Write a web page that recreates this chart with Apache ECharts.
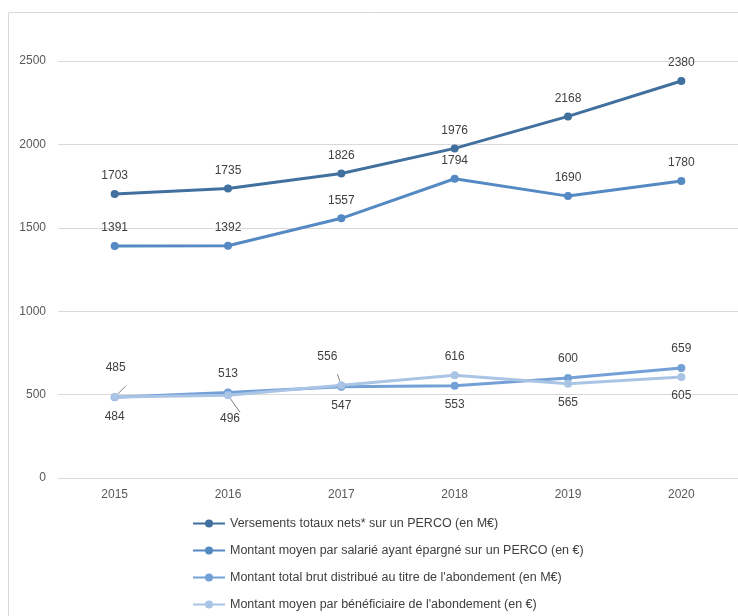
<!DOCTYPE html>
<html>
<head>
<meta charset="utf-8">
<script src="https://cdn.jsdelivr.net/npm/echarts@6/dist/echarts.min.js"></script>
<style>
html,body{margin:0;padding:0;background:#fff;}
#main{width:738px;height:616px;}
</style>
</head>
<body>
<div id="main"></div>
<script>
const categories = ['2015','2016','2017','2018','2019','2020'];
const seriesNames = [
  'Versements totaux nets* sur un PERCO (en M€)',
  'Montant moyen par salarié ayant épargné sur un PERCO (en €)',
  "Montant total brut distribué au titre de l'abondement (en M€)",
  "Montant moyen par bénéficiaire de l'abondement (en €)"
];
const versements = [1703, 1735, 1826, 1976, 2168, 2380];
const montantSalarie = [1391, 1392, 1557, 1794, 1690, 1780];
const abondementTotal = [484, 513, 547, 553, 600, 659];
const abondementMoyen = [485, 496, 556, 616, 565, 605];
const yTicks = {min: 0, max: 2500, interval: 500};

// label placement (style only)
const pos3 = ['bottom','top','bottom','bottom','top','top'];
const pos4 = ['top','bottom','top','top','bottom','bottom'];
const off4 = [[1,-10],[2,4],[-14,-10],[0,0],[0,0],[0,0]];
const leader4 = [true,true,true,false,false,false];

const colors = ['#41709f','#5589c3','#73a0d6','#aac4e6'];
const font = '"Liberation Sans", Arial, sans-serif';

function mk(values, positions, offsets, leaders){
  return values.map((v,i)=>{
    const item = {value: v};
    if (positions) {
      item.label = {position: positions[i]};
      if (offsets) item.label.offset = offsets[i];
      if (leaders && leaders[i]) item.labelLine = {show: true, lineStyle:{color:'#7f7f7f', width:1}};
    }
    return item;
  });
}

function line(name, data, color, distance){
  return {
    name: name, type: 'line', data: data,
    symbol: 'circle', symbolSize: 8,
    lineStyle: {width: 3, color: color},
    itemStyle: {color: color},
    label: {show: true, position: 'top', distance: distance, color: '#404040', fontSize: 12, fontFamily: font},
    emphasis: {disabled: true},
    animation: false
  };
}

const chart = echarts.init(document.getElementById('main'));
chart.setOption({
  animation: false,
  graphic: [{
    type: 'rect', left: 6, top: 10,
    shape: {width: 760, height: 640},
    style: {fill: 'none', stroke: '#d9d9d9', lineWidth: 1},
    silent: true
  }],
  grid: {left: 58, right: 0, top: 61, bottom: 138, containLabel: false},
  xAxis: {
    type: 'category', data: categories, boundaryGap: true,
    axisLine: {show: true, lineStyle: {color: '#d9d9d9'}},
    axisTick: {show: false},
    axisLabel: {color: '#595959', fontSize: 12, fontFamily: font, margin: 11}
  },
  yAxis: {
    type: 'value', min: yTicks.min, max: yTicks.max, interval: yTicks.interval,
    axisLine: {show: false}, axisTick: {show: false},
    splitLine: {lineStyle: {color: '#d9d9d9'}},
    axisLabel: {color: '#595959', fontSize: 12, fontFamily: font, margin: 12,
      formatter: v => String(v)}
  },
  legend: {
    orient: 'vertical', left: 187, top: 512, itemGap: 14,
    itemWidth: 32, itemHeight: 10,
    textStyle: {color: '#404040', fontSize: 12.5, fontFamily: font},
    data: seriesNames
  },
  series: [
    line(seriesNames[0], mk(versements), colors[0], 8),
    line(seriesNames[1], mk(montantSalarie), colors[1], 8),
    line(seriesNames[2], mk(abondementTotal, pos3), colors[2], 9),
    line(seriesNames[3], mk(abondementMoyen, pos4, off4, leader4), colors[3], 9)
  ]
});
</script>
</body>
</html>
